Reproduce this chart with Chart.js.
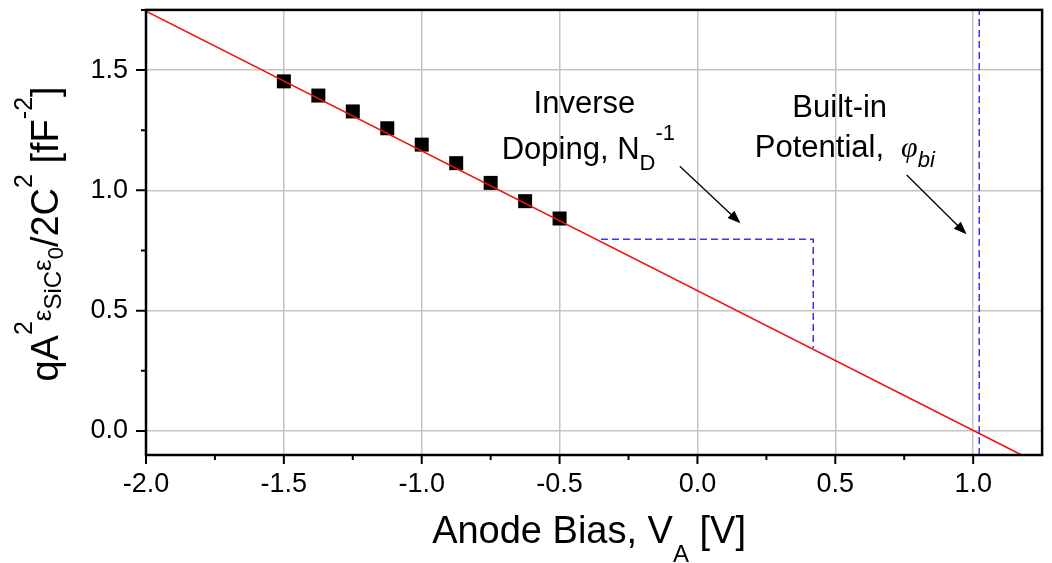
<!DOCTYPE html>
<html>
<head>
<meta charset="utf-8">
<script src="https://cdn.jsdelivr.net/npm/chart.js@4.4.0/dist/chart.umd.min.js"></script>
<style>
  body { margin: 0; background: #fff; }
</style>
</head>
<body>
<canvas id="c1" width="1052" height="563"></canvas>
<script>
// measured points, 1/C^2 vs anode bias
const biasV = [-1.5, -1.375, -1.25, -1.125, -1.0, -0.875, -0.75, -0.625, -0.5];
const invC2 = [1.453, 1.394, 1.328, 1.258, 1.190, 1.113, 1.031, 0.955, 0.883];

// linear fit (red), ends
const fitX = [-2.0, 1.25];
const fitY = [1.745, -0.143];

// blue dashed slope triangle and built-in potential marker
const slopeX = [-0.35, 0.42, 0.42];
const slopeY = [0.797, 0.797, 0.345];
const biX = [1.022, 1.022];
const biY = [-0.1, 1.75];

const FONT = "'Liberation Sans', Arial, sans-serif";
const BLUE = '#3b3bdc';

const pts = (xs, ys) => xs.map((x, i) => ({ x: x, y: ys[i] }));

function fontOf(s) {
    return (s.style || '') + ' ' + s.size + 'px ' + (s.family || FONT);
}
function richWidth(ctx, segs) {
    let w = 0;
    segs.forEach(s => { ctx.font = fontOf(s); w += (s.gap || 0) + ctx.measureText(s.t).width; });
    return w;
}
function drawRich(ctx, segs, x, y, align) {
    let cx = align === 'center' ? x - richWidth(ctx, segs) / 2 : x;
    ctx.textAlign = 'left';
    ctx.textBaseline = 'alphabetic';
    segs.forEach(s => {
        cx += s.gap || 0;
        ctx.font = fontOf(s);
        ctx.fillText(s.t, cx, y - (s.dy || 0));
        cx += ctx.measureText(s.t).width;
    });
}
function arrow(ctx, x1, y1, x2, y2) {
    const a = Math.atan2(y2 - y1, x2 - x1);
    const L = 13, W = 5;
    ctx.beginPath();
    ctx.moveTo(x1, y1);
    ctx.lineTo(x2 - 8 * Math.cos(a), y2 - 8 * Math.sin(a));
    ctx.stroke();
    ctx.beginPath();
    ctx.moveTo(x2, y2);
    ctx.lineTo(x2 - L * Math.cos(a) + W * Math.sin(a), y2 - L * Math.sin(a) - W * Math.cos(a));
    ctx.lineTo(x2 - L * Math.cos(a) - W * Math.sin(a), y2 - L * Math.sin(a) + W * Math.cos(a));
    ctx.closePath();
    ctx.fill();
}

const decor = {
    id: 'decor',
    afterDraw(chart) {
        const ctx = chart.ctx;
        const ca = chart.chartArea;
        const sx = chart.scales.x, sy = chart.scales.y;
        const X = v => sx.getPixelForValue(v), Y = v => sy.getPixelForValue(v);
        ctx.save();
        ctx.strokeStyle = '#000';
        ctx.fillStyle = '#000';

        // frame
        ctx.lineWidth = 2.5;
        ctx.strokeRect(ca.left, ca.top, ca.right - ca.left, ca.bottom - ca.top);

        // tick marks, major + minor, pointing out
        ctx.lineWidth = 2;
        ctx.beginPath();
        for (let i = 0; i <= 12; i++) {
            const px = X(-2 + 0.25 * i);
            ctx.moveTo(px, ca.bottom);
            ctx.lineTo(px, ca.bottom + (i % 2 ? 5 : 9));
        }
        for (let i = 0; i <= 7; i++) {
            const py = Y(0.25 * i);
            ctx.moveTo(ca.left, py);
            ctx.lineTo(ca.left - (i % 2 ? 5 : 10), py);
        }
        ctx.stroke();

        // axis titles
        drawRich(ctx, [
            { t: 'Anode Bias, V', size: 38 },
            { t: 'A', size: 24, dy: -19 },
            { t: ' [V]', size: 38 }
        ], (ca.left + ca.right) / 2 - 5, 543, 'center');

        ctx.save();
        ctx.translate(58, 234);
        ctx.rotate(-Math.PI / 2);
        drawRich(ctx, [
            { t: 'qA', size: 38 },
            { t: '2', size: 25, dy: 26 },
            { t: 'ε', size: 26, dy: 7 },
            { t: 'SiC', size: 24, dy: -3 },
            { t: 'ε', size: 26, dy: 7 },
            { t: '0', size: 22, dy: -5 },
            { t: '/2C', size: 38 },
            { t: '2', size: 25, dy: 26 },
            { t: ' [fF', size: 38 },
            { t: '-2', size: 25, dy: 26 },
            { t: ']', size: 38 }
        ], 0, 0, 'center');
        ctx.restore();

        // annotations
        drawRich(ctx, [{ t: 'Inverse', size: 31 }], X(-0.41), Y(1.323), 'center');
        drawRich(ctx, [
            { t: 'Doping, N', size: 31 },
            { t: 'D', size: 22, dy: -11 },
            { t: '-1', size: 22, dy: 19 }
        ], X(-0.71), Y(1.129), 'left');
        drawRich(ctx, [{ t: 'Built-in', size: 31 }], X(0.516), Y(1.306), 'center');
        drawRich(ctx, [
            { t: 'Potential,', size: 31 },
            { t: 'φ', size: 30, gap: 17, style: 'italic', family: "'Liberation Serif', serif" },
            { t: 'bi', size: 22, dy: -10, style: 'italic' }
        ], X(0.208), Y(1.137), 'left');

        ctx.lineWidth = 1.3;
        arrow(ctx, X(-0.064), Y(1.100), X(0.156), Y(0.863));
        arrow(ctx, X(0.759), Y(1.064), X(0.976), Y(0.817));
        ctx.restore();
    }
};

new Chart(document.getElementById('c1').getContext('2d'), {
    type: 'scatter',
    data: {
        datasets: [{
            data: pts(fitX, fitY),
            showLine: true,
            borderColor: '#f01010',
            borderWidth: 1.6,
            pointRadius: 0
        }, {
            data: pts(biasV, invC2),
            pointStyle: 'rect',
            pointRadius: 9.9,
            pointBorderWidth: 0,
            backgroundColor: '#000',
            borderColor: '#000'
        }, {
            data: pts(slopeX, slopeY),
            showLine: true,
            borderColor: BLUE,
            borderWidth: 1.5,
            borderDash: [7, 4],
            pointRadius: 0
        }, {
            data: pts(biX, biY),
            showLine: true,
            borderColor: BLUE,
            borderWidth: 1.5,
            borderDash: [7, 4],
            pointRadius: 0
        }]
    },
    options: {
        responsive: false,
        animation: false,
        layout: { padding: { left: 0, right: 8, top: 7, bottom: 0 } },
        plugins: { legend: { display: false }, tooltip: { enabled: false } },
        scales: {
            x: {
                type: 'linear',
                min: -2.0,
                max: 1.25,
                afterFit: s => { s.height = 108; s.paddingLeft = 0; s.paddingRight = 0; },
                border: { display: false },
                grid: { color: '#c4c4c4', lineWidth: 1.5, drawTicks: false },
                ticks: {
                    stepSize: 0.5,
                    includeBounds: false,
                    padding: 13,
                    color: '#000',
                    font: { family: FONT, size: 27 },
                    callback: v => v.toFixed(1)
                }
            },
            y: {
                type: 'linear',
                min: -0.1,
                max: 1.75,
                afterFit: s => { s.width = 146; s.paddingTop = 0; s.paddingBottom = 0; },
                border: { display: false },
                grid: { color: '#c4c4c4', lineWidth: 1.5, drawTicks: false },
                ticks: {
                    stepSize: 0.5,
                    includeBounds: false,
                    padding: 18,
                    color: '#000',
                    font: { family: FONT, size: 27 },
                    callback: v => v.toFixed(1)
                }
            }
        }
    },
    plugins: [decor]
});
</script>
</body>
</html>
